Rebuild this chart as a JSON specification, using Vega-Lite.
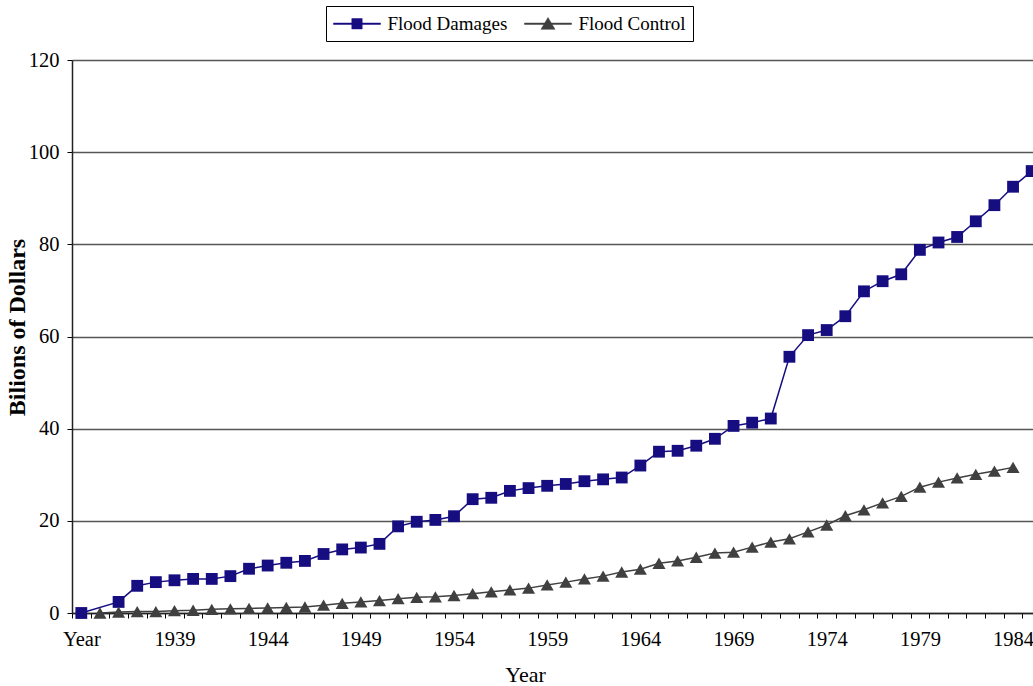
{
  "$schema": "https://vega.github.io/schema/vega-lite/v6.json",
  "width": 969,
  "height": 553,
  "autosize": "none",
  "padding": {"left": 72, "top": 60, "right": 0, "bottom": 73},
  "background": "white",
  "config": {
    "font": "Liberation Serif",
    "view": {"stroke": null}
  },
  "data": {
    "values": [
      {"Year": "Year", "Series": "Flood Damages", "Billions": 0},
      {"Year": "1936", "Series": "Flood Damages", "Billions": 2.4},
      {"Year": "1937", "Series": "Flood Damages", "Billions": 5.9},
      {"Year": "1938", "Series": "Flood Damages", "Billions": 6.7},
      {"Year": "1939", "Series": "Flood Damages", "Billions": 7.1},
      {"Year": "1940", "Series": "Flood Damages", "Billions": 7.4},
      {"Year": "1941", "Series": "Flood Damages", "Billions": 7.4},
      {"Year": "1942", "Series": "Flood Damages", "Billions": 8.0},
      {"Year": "1943", "Series": "Flood Damages", "Billions": 9.6},
      {"Year": "1944", "Series": "Flood Damages", "Billions": 10.3},
      {"Year": "1945", "Series": "Flood Damages", "Billions": 10.9},
      {"Year": "1946", "Series": "Flood Damages", "Billions": 11.3},
      {"Year": "1947", "Series": "Flood Damages", "Billions": 12.8},
      {"Year": "1948", "Series": "Flood Damages", "Billions": 13.8},
      {"Year": "1949", "Series": "Flood Damages", "Billions": 14.2},
      {"Year": "1950", "Series": "Flood Damages", "Billions": 15.0},
      {"Year": "1951", "Series": "Flood Damages", "Billions": 18.8},
      {"Year": "1952", "Series": "Flood Damages", "Billions": 19.8},
      {"Year": "1953", "Series": "Flood Damages", "Billions": 20.2},
      {"Year": "1954", "Series": "Flood Damages", "Billions": 21.0},
      {"Year": "1955", "Series": "Flood Damages", "Billions": 24.7},
      {"Year": "1956", "Series": "Flood Damages", "Billions": 25.0},
      {"Year": "1957", "Series": "Flood Damages", "Billions": 26.5},
      {"Year": "1958", "Series": "Flood Damages", "Billions": 27.1},
      {"Year": "1959", "Series": "Flood Damages", "Billions": 27.6},
      {"Year": "1960", "Series": "Flood Damages", "Billions": 28.0},
      {"Year": "1961", "Series": "Flood Damages", "Billions": 28.6},
      {"Year": "1962", "Series": "Flood Damages", "Billions": 29.0},
      {"Year": "1963", "Series": "Flood Damages", "Billions": 29.4},
      {"Year": "1964", "Series": "Flood Damages", "Billions": 32.0},
      {"Year": "1965", "Series": "Flood Damages", "Billions": 35.0},
      {"Year": "1966", "Series": "Flood Damages", "Billions": 35.2},
      {"Year": "1967", "Series": "Flood Damages", "Billions": 36.3},
      {"Year": "1968", "Series": "Flood Damages", "Billions": 37.8},
      {"Year": "1969", "Series": "Flood Damages", "Billions": 40.6},
      {"Year": "1970", "Series": "Flood Damages", "Billions": 41.3},
      {"Year": "1971", "Series": "Flood Damages", "Billions": 42.2},
      {"Year": "1972", "Series": "Flood Damages", "Billions": 55.6},
      {"Year": "1973", "Series": "Flood Damages", "Billions": 60.3},
      {"Year": "1974", "Series": "Flood Damages", "Billions": 61.4},
      {"Year": "1975", "Series": "Flood Damages", "Billions": 64.4},
      {"Year": "1976", "Series": "Flood Damages", "Billions": 69.8},
      {"Year": "1977", "Series": "Flood Damages", "Billions": 72.0},
      {"Year": "1978", "Series": "Flood Damages", "Billions": 73.5},
      {"Year": "1979", "Series": "Flood Damages", "Billions": 78.8},
      {"Year": "1980", "Series": "Flood Damages", "Billions": 80.4},
      {"Year": "1981", "Series": "Flood Damages", "Billions": 81.6},
      {"Year": "1982", "Series": "Flood Damages", "Billions": 85.0},
      {"Year": "1983", "Series": "Flood Damages", "Billions": 88.5},
      {"Year": "1984", "Series": "Flood Damages", "Billions": 92.5},
      {"Year": "1985", "Series": "Flood Damages", "Billions": 95.9},
      {"Year": "1935", "Series": "Flood Control", "Billions": 0},
      {"Year": "1936", "Series": "Flood Control", "Billions": 0.2},
      {"Year": "1937", "Series": "Flood Control", "Billions": 0.3},
      {"Year": "1938", "Series": "Flood Control", "Billions": 0.3},
      {"Year": "1939", "Series": "Flood Control", "Billions": 0.5},
      {"Year": "1940", "Series": "Flood Control", "Billions": 0.6},
      {"Year": "1941", "Series": "Flood Control", "Billions": 0.8},
      {"Year": "1942", "Series": "Flood Control", "Billions": 0.9},
      {"Year": "1943", "Series": "Flood Control", "Billions": 1.0},
      {"Year": "1944", "Series": "Flood Control", "Billions": 1.1},
      {"Year": "1945", "Series": "Flood Control", "Billions": 1.2},
      {"Year": "1946", "Series": "Flood Control", "Billions": 1.3},
      {"Year": "1947", "Series": "Flood Control", "Billions": 1.7},
      {"Year": "1948", "Series": "Flood Control", "Billions": 2.1},
      {"Year": "1949", "Series": "Flood Control", "Billions": 2.4},
      {"Year": "1950", "Series": "Flood Control", "Billions": 2.7},
      {"Year": "1951", "Series": "Flood Control", "Billions": 3.1},
      {"Year": "1952", "Series": "Flood Control", "Billions": 3.4},
      {"Year": "1953", "Series": "Flood Control", "Billions": 3.5},
      {"Year": "1954", "Series": "Flood Control", "Billions": 3.8},
      {"Year": "1955", "Series": "Flood Control", "Billions": 4.2},
      {"Year": "1956", "Series": "Flood Control", "Billions": 4.6},
      {"Year": "1957", "Series": "Flood Control", "Billions": 5.0},
      {"Year": "1958", "Series": "Flood Control", "Billions": 5.4},
      {"Year": "1959", "Series": "Flood Control", "Billions": 6.1},
      {"Year": "1960", "Series": "Flood Control", "Billions": 6.7},
      {"Year": "1961", "Series": "Flood Control", "Billions": 7.4},
      {"Year": "1962", "Series": "Flood Control", "Billions": 8.0},
      {"Year": "1963", "Series": "Flood Control", "Billions": 8.9},
      {"Year": "1964", "Series": "Flood Control", "Billions": 9.5},
      {"Year": "1965", "Series": "Flood Control", "Billions": 10.8},
      {"Year": "1966", "Series": "Flood Control", "Billions": 11.3},
      {"Year": "1967", "Series": "Flood Control", "Billions": 12.1},
      {"Year": "1968", "Series": "Flood Control", "Billions": 13.0},
      {"Year": "1969", "Series": "Flood Control", "Billions": 13.2},
      {"Year": "1970", "Series": "Flood Control", "Billions": 14.3},
      {"Year": "1971", "Series": "Flood Control", "Billions": 15.4},
      {"Year": "1972", "Series": "Flood Control", "Billions": 16.1},
      {"Year": "1973", "Series": "Flood Control", "Billions": 17.6},
      {"Year": "1974", "Series": "Flood Control", "Billions": 19.1},
      {"Year": "1975", "Series": "Flood Control", "Billions": 21.1},
      {"Year": "1976", "Series": "Flood Control", "Billions": 22.4},
      {"Year": "1977", "Series": "Flood Control", "Billions": 23.9},
      {"Year": "1978", "Series": "Flood Control", "Billions": 25.3},
      {"Year": "1979", "Series": "Flood Control", "Billions": 27.3},
      {"Year": "1980", "Series": "Flood Control", "Billions": 28.4},
      {"Year": "1981", "Series": "Flood Control", "Billions": 29.3},
      {"Year": "1982", "Series": "Flood Control", "Billions": 30.1},
      {"Year": "1983", "Series": "Flood Control", "Billions": 30.8},
      {"Year": "1984", "Series": "Flood Control", "Billions": 31.6}
    ]
  },
  "encoding": {
    "x": {
      "field": "Year",
      "type": "ordinal",
      "scale": {
        "type": "band",
        "paddingInner": 0,
        "paddingOuter": 0,
        "domain": ["Year","1935","1936","1937","1938","1939","1940","1941","1942","1943","1944","1945","1946","1947","1948","1949","1950","1951","1952","1953","1954","1955","1956","1957","1958","1959","1960","1961","1962","1963","1964","1965","1966","1967","1968","1969","1970","1971","1972","1973","1974","1975","1976","1977","1978","1979","1980","1981","1982","1983","1984","1985"]
      },
      "axis": {
        "title": "Year",
        "titleFont": "Liberation Serif",
        "titleFontSize": 22,
        "titleFontWeight": "normal",
        "titleColor": "black",
        "titlePadding": 15,
        "titleX": 453,
        "labelExpr": "datum.value == 'Year' || (toNumber(datum.value) - 1934) % 5 == 0 ? datum.value : ''",
        "labelAngle": 0,
        "labelFontSize": 20.5,
        "labelColor": "black",
        "labelPadding": 11,
        "labelOverlap": false,
        "labelBound": false,
        "tickBand": "extent",
        "tickSize": 5,
        "tickColor": "black",
        "tickWidth": 1,
        "domainColor": "#222222",
        "domainWidth": 1.5,
        "grid": false
      }
    },
    "y": {
      "field": "Billions",
      "type": "quantitative",
      "scale": {"domain": [0, 120], "nice": false},
      "axis": {
        "title": "Bilions of Dollars",
        "titleFont": "Liberation Serif",
        "titleFontSize": 24,
        "titleFontWeight": "bold",
        "titleColor": "black",
        "titlePadding": -1,
        "titleY": 267,
        "values": [0, 20, 40, 60, 80, 100, 120],
        "labelFontSize": 20.5,
        "labelColor": "black",
        "labelPadding": 8,
        "tickSize": 5,
        "tickColor": "black",
        "domainColor": "#222222",
        "domainWidth": 1.5,
        "grid": true,
        "gridColor": "#555555",
        "gridWidth": 1.5
      }
    },
    "color": {
      "field": "Series",
      "type": "nominal",
      "scale": {"domain": ["Flood Damages", "Flood Control"], "range": ["#160d80", "#404040"]},
      "legend": {
        "title": null,
        "orient": "none",
        "legendX": 254,
        "legendY": -54,
        "direction": "horizontal",
        "strokeColor": "black",
        "fillColor": "white",
        "padding": 7,
        "labelFont": "Liberation Serif",
        "labelFontSize": 19,
        "labelColor": "black",
        "labelOffset": 20,
        "symbolOffset": 13.5,
        "columnPadding": 15,
        "symbolSize": 400,
        "symbolOpacity": 1,
        "symbolStrokeWidth": 0.5
      }
    }
  },
  "layer": [
    {
      "mark": {"type": "line", "strokeWidth": 1.5, "clip": false}
    },
    {
      "transform": [{"filter": "datum.Series == 'Flood Damages'"}],
      "mark": {"type": "point", "shape": "square", "filled": true, "opacity": 1, "size": 140, "clip": false}
    },
    {
      "transform": [{"filter": "datum.Series == 'Flood Control'"}],
      "mark": {"type": "point", "shape": "triangle-up", "filled": true, "opacity": 1, "size": 170, "clip": false}
    },
    {
      "mark": {"type": "point", "filled": true, "opacity": 0, "clip": false},
      "encoding": {
        "shape": {
          "field": "Series",
          "type": "nominal",
          "scale": {
            "domain": ["Flood Damages", "Flood Control"],
            "range": ["M-2.35,-0.07H2.35V0.07H-2.35ZM-0.52,-0.52H0.52V0.52H-0.52Z", "M-2.35,-0.07H2.35V0.07H-2.35ZM0,-0.63L0.7,0.56H-0.7Z"]
          },
          "legend": {
            "title": null,
            "orient": "none",
            "legendX": 254,
            "legendY": -54,
            "direction": "horizontal",
            "strokeColor": "black",
            "fillColor": "white",
            "padding": 7,
            "labelFont": "Liberation Serif",
            "labelFontSize": 19,
            "labelColor": "black",
            "labelOffset": 20,
            "symbolOffset": 13.5,
            "columnPadding": 15,
            "symbolSize": 400,
            "symbolOpacity": 1,
            "symbolStrokeWidth": 0.5
          }
        }
      }
    }
  ]
}
